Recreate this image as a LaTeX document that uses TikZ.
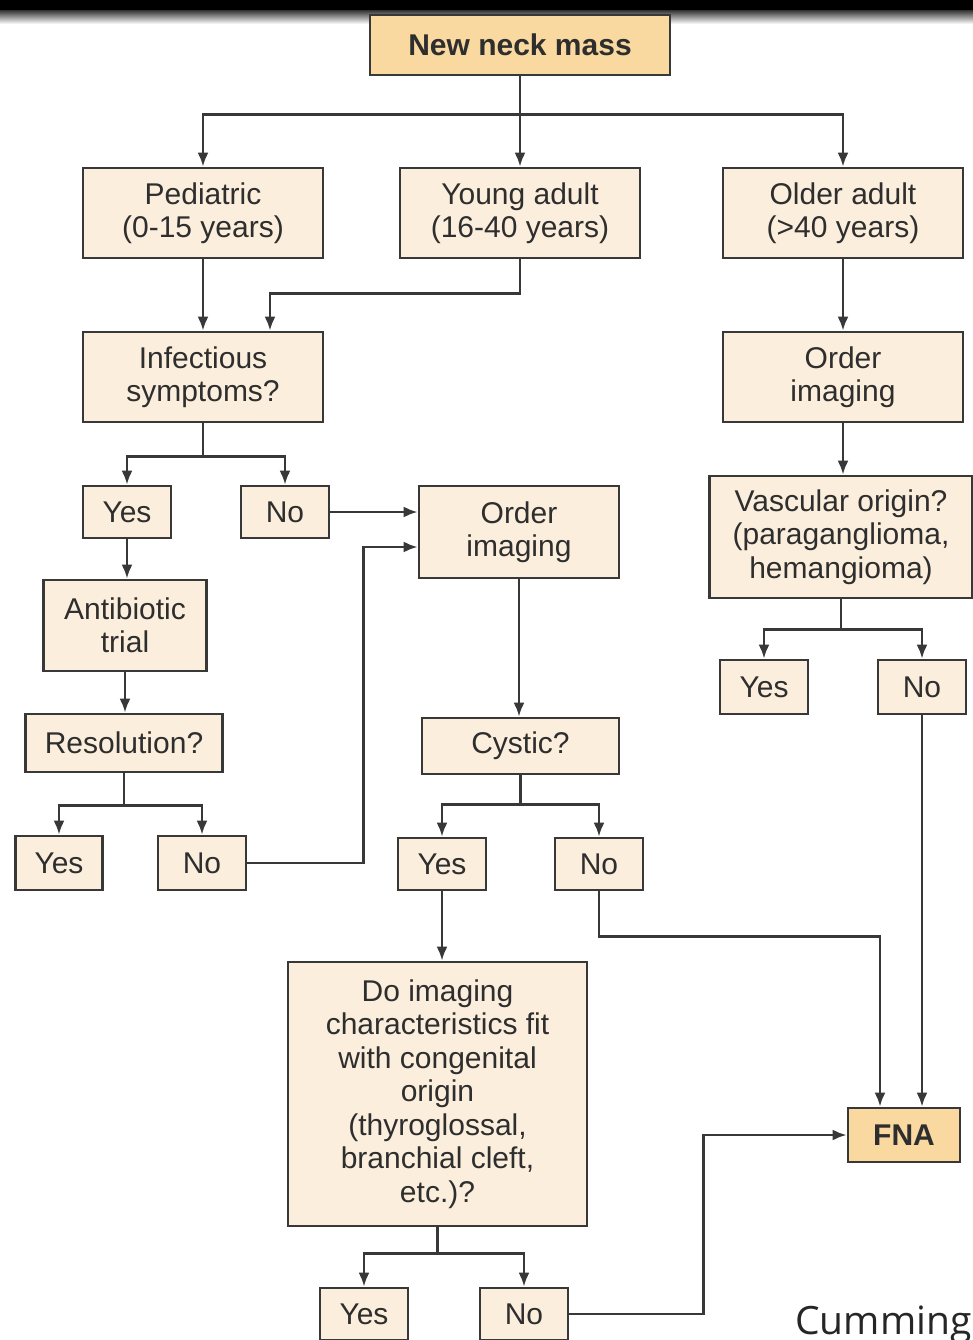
\documentclass[tikz,border=0pt]{standalone}
\usepackage{fontspec}
\setmainfont{Liberation Sans}
\newfontfamily\creditfont{Open Sans}
\usetikzlibrary{arrows.meta}
\definecolor{cream}{HTML}{FBEEDC}
\definecolor{peach}{HTML}{FAD9A1}
\definecolor{edge}{HTML}{383838}
\definecolor{ink}{HTML}{2E2E2E}
\tikzset{
  box/.style={draw=edge, line width=2.7pt, fill=cream, text=ink, align=center,
    inner sep=0pt, font=\fontsize{30}{33.5}\selectfont},
  keybox/.style={box, fill=peach, font=\fontsize{30}{33.5}\selectfont\bfseries},
  ln/.style={draw=edge, line width=2.6pt},
  arr/.style={ln, -{Latex[length=14pt,width=11pt]}},
}
\begin{document}
\begin{tikzpicture}[x=1pt,y=-1pt]
\useasboundingbox (0,0) rectangle (973,1340);
\clip (0,0) rectangle (973,1340);
\fill[white] (0,0) rectangle (973,1340);
\fill[black] (0,0) rectangle (973,11);
\shade[top color=black!75, bottom color=white] (0,11) rectangle (973,24);

% nodes
\node[keybox, minimum width=300pt, minimum height=60pt] (nnm) at (520,45) {New neck mass};
\node[box, minimum width=240pt, minimum height=90pt] (ped) at (203,213) {Pediatric\\(0-15 years)};
\node[box, minimum width=240pt, minimum height=90pt] (ya) at (520,213) {Young adult\\(16-40 years)};
\node[box, minimum width=240pt, minimum height=90pt] (oa) at (843,213) {Older adult\\(>40 years)};
\node[box, minimum width=240pt, minimum height=90pt] (inf) at (203,377) {Infectious\\symptoms?};
\node[box, minimum width=240pt, minimum height=90pt] (oi2) at (843,377) {Order\\imaging};
\node[box, minimum width=88pt, minimum height=52pt] (yes1) at (127,512) {Yes};
\node[box, minimum width=88pt, minimum height=52pt] (no1) at (285,512) {No};
\node[box, minimum width=200pt, minimum height=92pt] (oi1) at (519,532) {Order\\imaging};
\node[box, minimum width=263pt, minimum height=122pt] (vasc) at (841,537) {Vascular origin?\\(paraganglioma,\\hemangioma)};
\node[box, minimum width=163pt, minimum height=91pt] (anti) at (125,625.5) {Antibiotic\\trial};
\node[box, minimum width=197pt, minimum height=58pt] (res) at (124,743) {Resolution?};
\node[box, minimum width=88pt, minimum height=54pt] (yes2) at (764,687) {Yes};
\node[box, minimum width=88pt, minimum height=54pt] (no2) at (922,687) {No};
\node[box, minimum width=197pt, minimum height=56pt] (cyst) at (520.5,746) {Cystic?};
\node[box, minimum width=87pt, minimum height=54pt] (yes3) at (59,863) {Yes};
\node[box, minimum width=88pt, minimum height=54pt] (no3) at (202,863) {No};
\node[box, minimum width=88pt, minimum height=52pt] (yes4) at (442,864) {Yes};
\node[box, minimum width=88pt, minimum height=52pt] (no4) at (599,864) {No};
\node[box, minimum width=299pt, minimum height=264pt] (doimg) at (437.5,1094) {Do imaging\\characteristics fit\\with congenital\\origin\\(thyroglossal,\\branchial cleft,\\etc.)?};
\node[keybox, minimum width=112pt, minimum height=54pt] (fna) at (904,1135) {FNA};
\node[box, minimum width=88pt, minimum height=52pt] (yes5) at (364,1314) {Yes};
\node[box, minimum width=88pt, minimum height=52pt] (no5) at (524,1314) {No};
\node[anchor=base west, text=black!85, font=\creditfont\fontsize{39}{41}\selectfont, inner sep=0pt] (credit) at (795,1334) {Cumming};

% connectors
\draw[arr] (nnm.south) -- ++(0,38) -| (ped.north);
\draw[arr] (nnm.south) -- ++(0,38) -| (oa.north);
\draw[arr] (nnm.south) -- (ya.north);
\draw[arr] (ped.south) -- (inf.north);
\draw[arr] (ya.south) -- ++(0,34) -| ([xshift=67pt]inf.north);
\draw[arr] (oa.south) -- (oi2.north);
\draw[arr] (inf.south) -- ++(0,33) -| (yes1.north);
\draw[arr] (inf.south) -- ++(0,33) -| (no1.north);
\draw[arr] (no1.east) -- (no1.east -| oi1.west);
\draw[arr] (yes1.south) -- (yes1.south |- anti.north);
\draw[arr] (anti.south) -- (anti.south |- res.north);
\draw[arr] (res.south) -- ++(0,32) -| (yes3.north);
\draw[arr] (res.south) -- ++(0,32) -| (no3.north);
\draw[arr] (no3.east) -- ++(116,0) |- ([yshift=-15pt]oi1.west);
\draw[arr] (oi1.south) -- (oi1.south |- cyst.north);
\draw[arr] (cyst.south) -- ++(0,29) -| (yes4.north);
\draw[arr] (cyst.south) -- ++(0,29) -| (no4.north);
\draw[arr] (yes4.south) -- (yes4.south |- doimg.north);
\draw[arr] (no4.south) -- ++(0,45) -| ([xshift=-24pt]fna.north);
\draw[arr] (oi2.south) -- (oi2.south |- vasc.north);
\draw[arr] (vasc.south) -- ++(0,30) -| (yes2.north);
\draw[arr] (vasc.south) -- ++(0,30) -| (no2.north);
\draw[arr] (no2.south) -- (no2.south |- fna.north);
\draw[arr] (doimg.south) -- ++(0,26) -| (yes5.north);
\draw[arr] (doimg.south) -- ++(0,26) -| (no5.north);
\draw[arr] (no5.east) -- ++(134,0) |- (fna.west);
\end{tikzpicture}
\end{document}
